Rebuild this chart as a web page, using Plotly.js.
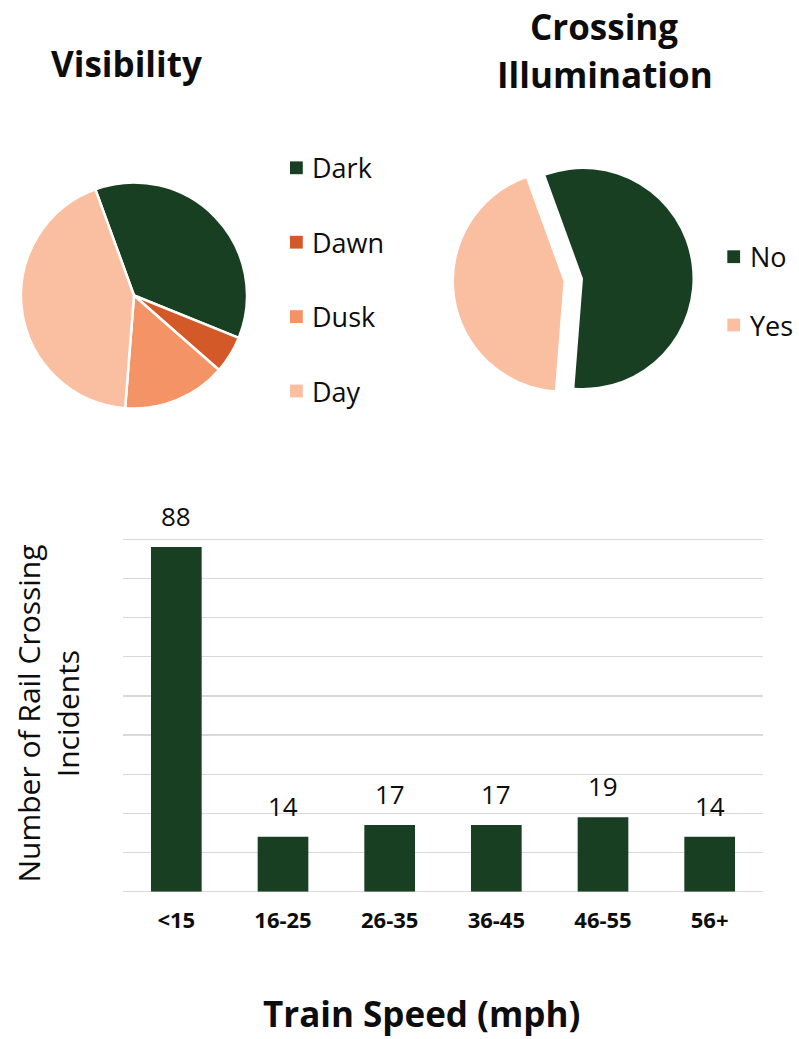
<!DOCTYPE html>
<html>
<head>
<meta charset="utf-8">
<script src="https://cdn.plot.ly/plotly-3.0.1.min.js"></script>
<style>
  html, body { margin: 0; padding: 0; background: #ffffff; }
  #chart { width: 799px; height: 1039px; }
</style>
</head>
<body>
<div id="chart"></div>
<script>
// Lighting conditions at the time of the incident
const visLabels = ['Dark', 'Dawn', 'Dusk', 'Day'];
const visCounts = [62, 9, 25, 73];
const visColors = ['#193f22', '#d35a28', '#f49466', '#f9bfa0'];

// Whether the crossing was lit
const illumLabels = ['No', 'Yes'];
const illumCounts = [96, 73];
const illumColors = ['#193f22', '#f9bfa0'];
const illumPull = [0, 0.18];

// Incidents by train speed band
const speedBands = ['<15', '16-25', '26-35', '36-45', '46-55', '56+'];
const incidentCounts = [88, 14, 17, 17, 19, 14];
const barColor = '#193f22';

const W = 799, H = 1039;
const fx = x => x / W;
const fy = y => 1 - y / H;
const FONT = '"Open Sans", "Noto Sans", sans-serif';
const INK = '#0d0d0d';

const traces = [
  {
    type: 'pie',
    labels: visLabels,
    values: visCounts,
    sort: false,
    direction: 'clockwise',
    rotation: -20,
    textinfo: 'none',
    hoverinfo: 'label+value',
    marker: { colors: visColors, line: { color: '#ffffff', width: 2.5 } },
    domain: { x: [fx(21), fx(247)], y: [fy(408.5), fy(182.5)] }
  },
  {
    type: 'pie',
    labels: illumLabels,
    values: illumCounts,
    sort: false,
    direction: 'clockwise',
    rotation: -20,
    pull: illumPull,
    textinfo: 'none',
    hoverinfo: 'label+value',
    marker: { colors: illumColors, line: { color: '#ffffff', width: 0 } },
    domain: { x: [fx(453.8), fx(712.2)], y: [fy(407.7), fy(149.3)] }
  },
  {
    type: 'bar',
    x: speedBands,
    y: incidentCounts,
    marker: { color: barColor },
    hoverinfo: 'x+y',
    xaxis: 'x',
    yaxis: 'y'
  }
];

// Legend entries drawn beside each pie
function legendItems(labels, colors, sqLeft, textLeft, firstY, step) {
  const shapes = [], notes = [];
  labels.forEach((lab, i) => {
    const cy = firstY + i * step;
    shapes.push({
      type: 'rect', xref: 'paper', yref: 'paper',
      x0: fx(sqLeft), x1: fx(sqLeft + 12.8),
      y0: fy(cy + 6.4), y1: fy(cy - 6.4),
      fillcolor: colors[i], line: { width: 0 }
    });
    notes.push({
      xref: 'paper', yref: 'paper', x: fx(textLeft), y: fy(cy),
      xanchor: 'left', yanchor: 'middle', showarrow: false,
      text: lab, font: { family: FONT, size: 27, color: INK }
    });
  });
  return { shapes, notes };
}

const visLegend = legendItems(visLabels, visColors, 290, 310, 167.8, 74.4);
const illumLegend = legendItems(illumLabels, illumColors, 727.3, 748, 256.7, 68.3);

// Value labels sit on top of each bar
const valueLabels = speedBands.map((band, i) => ({
  xref: 'x', yref: 'y', x: band, y: incidentCounts[i],
  xanchor: 'center', yanchor: 'bottom', yshift: 11, showarrow: false,
  text: String(incidentCounts[i]),
  font: { family: FONT, size: 26, color: INK }
}));

const titleFont = { family: FONT, size: 35, weight: 700, color: INK };
const titles = [
  {
    xref: 'paper', yref: 'paper', x: fx(126.7), y: fy(63),
    xanchor: 'center', yanchor: 'middle', showarrow: false,
    text: 'Visibility', font: titleFont
  },
  {
    xref: 'paper', yref: 'paper', x: fx(604), y: fy(26),
    xanchor: 'center', yanchor: 'middle', showarrow: false,
    text: 'Crossing', font: titleFont
  },
  {
    xref: 'paper', yref: 'paper', x: fx(605), y: fy(75),
    xanchor: 'center', yanchor: 'middle', showarrow: false,
    text: 'Illumination', font: titleFont
  },
  {
    xref: 'paper', yref: 'paper', x: fx(421), y: fy(1013),
    xanchor: 'center', yanchor: 'middle', showarrow: false,
    text: 'Train Speed (mph)',
    font: { family: FONT, size: 35, weight: 700, color: INK }
  }
];

// value axis: 0 sits at y=891.7px, 10 units per 39.16px
const Y0 = 891.7, PX_PER_UNIT = 3.916, Y_MAX = 91;

const layout = {
  width: W,
  height: H,
  margin: { l: 0, r: 0, t: 0, b: 0 },
  paper_bgcolor: '#ffffff',
  plot_bgcolor: '#ffffff',
  showlegend: false,
  bargap: 0.525,
  font: { family: FONT, color: INK },
  xaxis: {
    domain: [fx(123), fx(763)],
    type: 'category',
    showgrid: false,
    showline: false,
    zeroline: false,
    ticks: '',
    ticklabelstandoff: 13,
    tickfont: { family: FONT, size: 22, weight: 700, color: INK },
    fixedrange: true
  },
  yaxis: {
    domain: [fy(Y0), fy(Y0 - Y_MAX * PX_PER_UNIT)],
    range: [0, Y_MAX],
    tick0: 0,
    dtick: 10,
    showgrid: true,
    gridcolor: '#d9d9d9',
    gridwidth: 1.3,
    zeroline: true,
    zerolinecolor: '#d9d9d9',
    zerolinewidth: 1.3,
    showline: false,
    showticklabels: false,
    ticks: '',
    title: {
      text: 'Number of Rail Crossing<br>Incidents',
      font: { family: FONT, size: 30, color: INK },
      standoff: 33
    },
    fixedrange: true
  },
  shapes: [...visLegend.shapes, ...illumLegend.shapes],
  annotations: [...titles, ...visLegend.notes, ...illumLegend.notes, ...valueLabels]
};

Plotly.newPlot('chart', traces, layout, { staticPlot: true, displayModeBar: false });
</script>
</body>
</html>
